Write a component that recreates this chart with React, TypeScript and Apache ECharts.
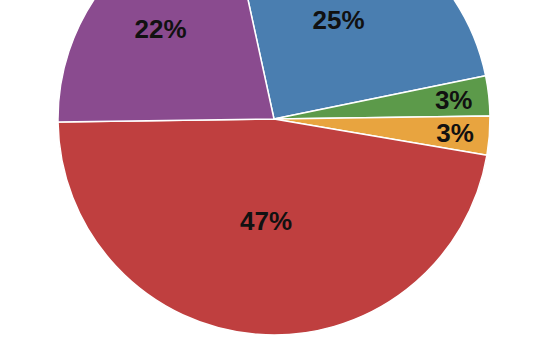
import React, { useEffect, useRef } from "react";
import * as echarts from "echarts";

const categories = ["A", "B", "C", "D", "E"];
const values = [25.2, 3.0, 2.9, 47.1, 21.8];
const colors = ["#4a7eb0", "#5c9a4a", "#e8a43f", "#bf3f3f", "#8a4b8f"];
// label distance from centre as a fraction of the radius
const labelRadiusFraction = [0.533, 0.814, 0.818, 0.463, 0.653];

const CX = 274;
const CY = 119;
const R = 216;

export default function App() {
  const ref = useRef<HTMLDivElement>(null);
  useEffect(() => {
    if (!ref.current) return;
    const chart = echarts.init(ref.current, null, { renderer: "svg" });
    const total = values.reduce((a, b) => a + b, 0);
    chart.setOption({
      animation: false,
      backgroundColor: "#ffffff",
      series: [
        {
          type: "pie",
          center: [CX, CY],
          radius: [0, R],
          startAngle: 102.3,
          clockwise: true,
          avoidLabelOverlap: false,
          data: categories.map((c, i) => ({
            name: c,
            value: values[i],
            itemStyle: { color: colors[i] },
          })),
          itemStyle: { borderColor: "#ffffff", borderWidth: 1.5 },
          label: {
            show: true,
            position: "inside",
            formatter: (p: any) => Math.round((p.value / total) * 100) + "%",
            color: "#111111",
            fontSize: 26,
            fontWeight: "bold",
            fontFamily: "Liberation Sans, Arial, sans-serif",
          },
          labelLine: { show: false },
          labelLayout: (params: any) => {
            const rect = params.labelRect;
            const lx = rect.x + rect.width / 2;
            const ly = rect.y + rect.height / 2;
            const k = labelRadiusFraction[params.dataIndex] / 0.5;
            return {
              x: CX + (lx - CX) * k,
              y: CY + (ly - CY) * k,
            };
          },
          emphasis: { disabled: true },
        },
      ],
    });
    return () => chart.dispose();
  }, []);
  return (
    <div
      ref={ref}
      style={{ position: "absolute", left: 0, top: 0, width: 543, height: 352 }}
    />
  );
}
